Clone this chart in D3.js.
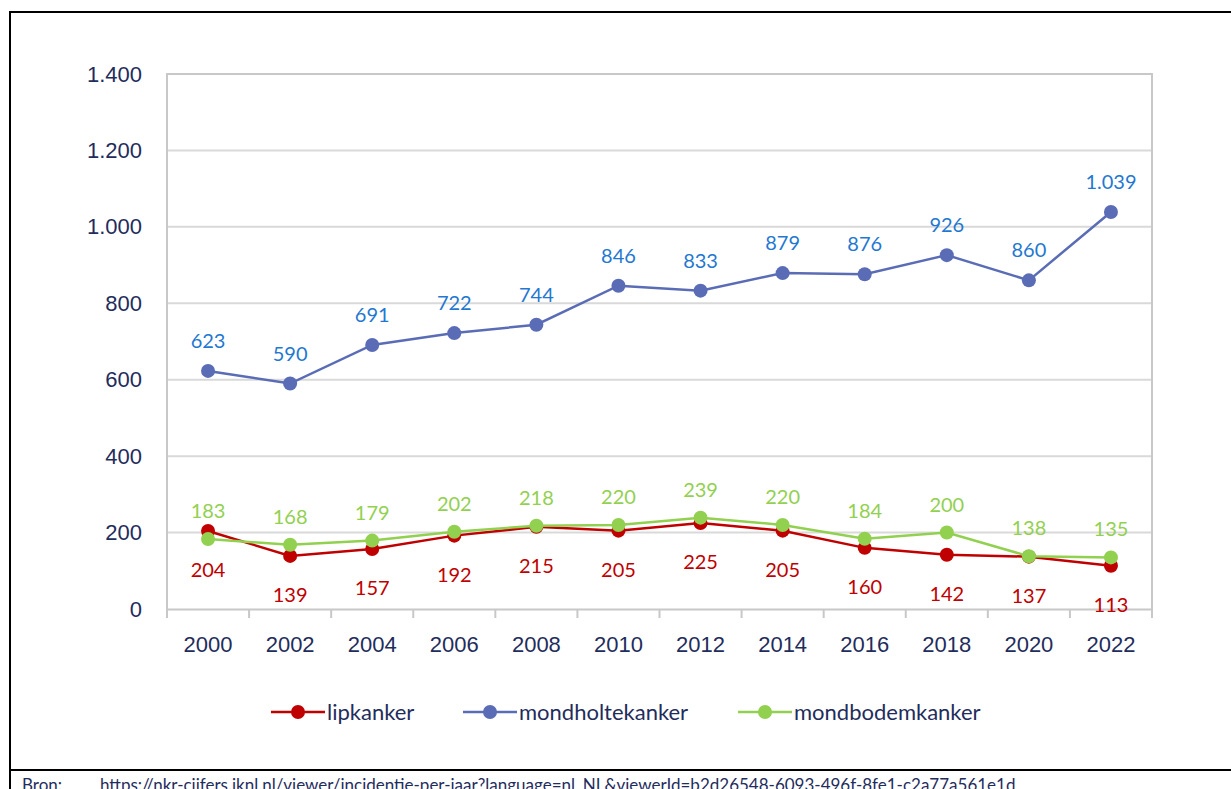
<meta charset="utf-8">
<title>Incidentie lip- en mondholtekanker</title>
<style>
  body { margin: 0; background: #fff; }
  svg { display: block; font-family: Lato, "Open Sans", sans-serif; }
</style>
<body>
<script src="https://cdn.jsdelivr.net/npm/d3@7/dist/d3.min.js"></script>
<script>
// data ==============================================================
var years = ["2000","2002","2004","2006","2008","2010","2012","2014","2016","2018","2020","2022"];
var lipkanker = [204,139,157,192,215,205,225,205,160,142,137,113];
var mondholtekanker = [623,590,691,722,744,846,833,879,876,926,860,1039];
var mondbodemkanker = [183,168,179,202,218,220,239,220,184,200,138,135];
var yTicks = [0,200,400,600,800,1000,1200,1400];
var seriesNames = ["lipkanker","mondholtekanker","mondbodemkanker"];

var width = 1231, height = 789;
var plotL = 167, plotR = 1152, plotT = 74, plotB = 609;
var navy = "#1f2d5c";

var nl = d3.formatLocale({decimal: ",", thousands: ".", grouping: [3], currency: ["€", ""]});
var fmt = nl.format(",d");

var x = d3.scaleBand().domain(years).range([plotL, plotR]);
var y = d3.scaleLinear().domain([0, 1400]).range([plotB, plotT]);

var svg = d3.select("body").append("svg")
    .attr("width", width)
    .attr("height", height);

// outer frame
svg.append("path")
    .attr("d", "M10,790 L10,12 L1231,12")
    .style("fill", "none").style("stroke", "#000").style("stroke-width", 2);
svg.append("line")
    .attr("x1", 10).attr("x2", 1231).attr("y1", 770).attr("y2", 770)
    .style("stroke", "#000").style("stroke-width", 2);

// grid ==============================================================
svg.selectAll(".grid").data(yTicks.slice(1)).enter().append("line")
    .attr("x1", plotL).attr("x2", plotR)
    .attr("y1", function(d) { return y(d); })
    .attr("y2", function(d) { return y(d); })
    .style("stroke", "#d9d9d9").style("stroke-width", 2);

svg.append("path")
    .attr("d", "M" + plotL + "," + plotB + "V" + plotT + "H" + plotR + "V" + plotB)
    .style("fill", "none").style("stroke", "#c8c8c8").style("stroke-width", 2);

// x axis
var xAxis = d3.axisBottom(x).tickSize(0).tickPadding(27);
var gx = svg.append("g").attr("transform", "translate(0," + plotB + ")").call(xAxis);
gx.select(".domain").style("stroke", "#c8c8c8").style("stroke-width", 2);
gx.selectAll("text").style("font-size", "22px").style("fill", navy);
var bounds = years.map(function(d) { return x(d); }).concat([plotR]);
gx.selectAll(".sep").data(bounds).enter().append("line")
    .attr("x1", function(d) { return d; }).attr("x2", function(d) { return d; })
    .attr("y1", 0).attr("y2", 9)
    .style("stroke", "#c8c8c8").style("stroke-width", 2);

// y axis
var yAxis = d3.axisLeft(y).tickValues(yTicks).tickSize(0).tickPadding(25).tickFormat(fmt);
var gy = svg.append("g").attr("transform", "translate(" + plotL + ",0)").call(yAxis);
gy.select(".domain").remove();
gy.selectAll("text").style("font-size", "22px").style("fill", navy);

// lines =============================================================
var cx = function(i) { return x(years[i]) + x.bandwidth() / 2; };
var line = d3.line()
    .x(function(d, i) { return cx(i); })
    .y(function(d) { return y(d); });

var series = [
  {name: "lipkanker", values: lipkanker, color: "#c00000", label: "#c00000", dy: 39},
  {name: "mondholtekanker", values: mondholtekanker, color: "#5a6cb5", label: "#1f78d1", dy: -30},
  {name: "mondbodemkanker", values: mondbodemkanker, color: "#92d050", label: "#92d050", dy: -28}
];

series.forEach(function(s) {
  svg.append("path")
      .datum(s.values)
      .attr("d", line)
      .style("fill", "none").style("stroke", s.color).style("stroke-width", 2.5);
  svg.selectAll(".pt-" + s.name).data(s.values).enter().append("circle")
      .attr("cx", function(d, i) { return cx(i); })
      .attr("cy", function(d) { return y(d); })
      .attr("r", 7)
      .style("fill", s.color);
});

series.forEach(function(s) {
  svg.selectAll(".lbl-" + s.name).data(s.values).enter().append("text")
      .attr("x", function(d, i) { return cx(i); })
      .attr("y", function(d) { return y(d) + s.dy; })
      .attr("dy", "0.35em")
      .attr("text-anchor", "middle")
      .style("font-size", "20px")
      .style("fill", s.label)
      .text(function(d) { return fmt(d); });
});

// legend ============================================================
var legendX = [271, 463, 738];
series.forEach(function(s, i) {
  var g = svg.append("g").attr("transform", "translate(" + legendX[i] + ",712)");
  g.append("line").attr("x1", 0).attr("x2", 54).attr("y1", 0).attr("y2", 0)
      .style("stroke", s.color).style("stroke-width", 2.5);
  g.append("circle").attr("cx", 27).attr("cy", 0).attr("r", 7).style("fill", s.color);
  g.append("text").attr("x", 56).attr("y", 0).attr("dy", "0.35em")
      .style("font-size", "22px").style("fill", navy)
      .text(seriesNames[i]);
});

// source ============================================================
svg.append("text").attr("x", 22).attr("y", 791)
    .style("font-size", "17px").style("fill", navy).text("Bron:");
svg.append("text").attr("x", 100).attr("y", 791)
    .style("font-size", "17px").style("fill", navy)
    .text("https://nkr-cijfers.iknl.nl/viewer/incidentie-per-jaar?language=nl_NL&viewerId=b2d26548-6093-496f-8fe1-c2a77a561e1d");
</script>
</body>
